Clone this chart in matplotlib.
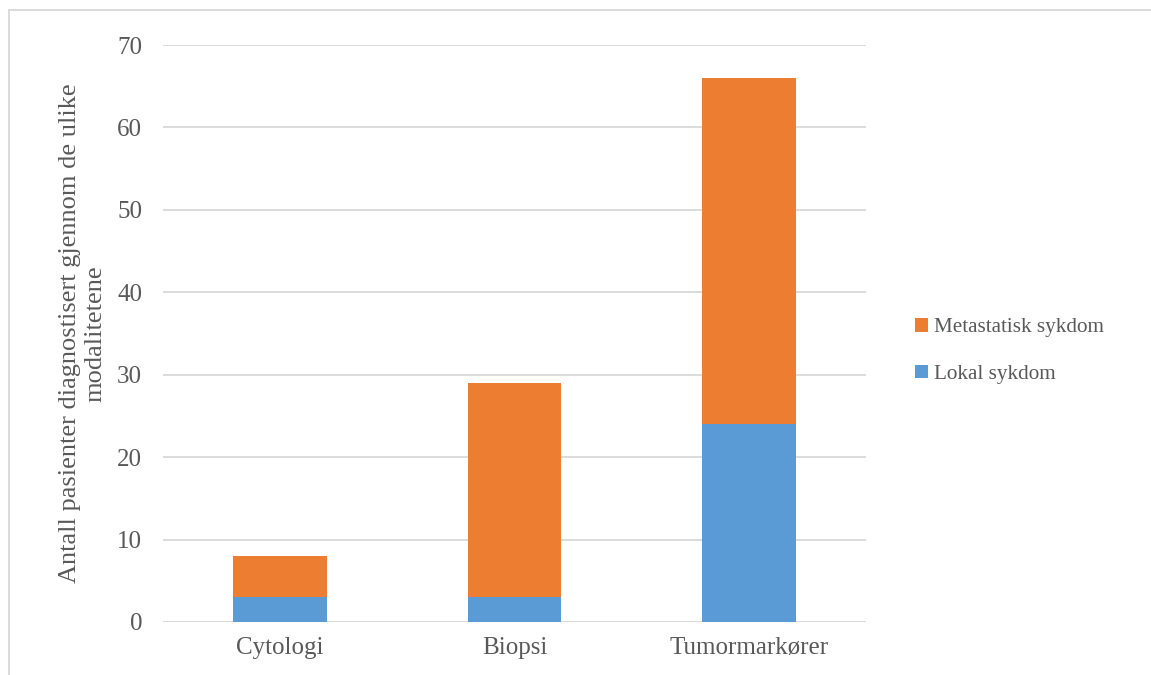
import matplotlib.pyplot as plt
from matplotlib.lines import Line2D

categories = ['Cytologi', 'Biopsi', 'Tumormarkører']
lokal = [3, 3, 24]
metastatisk = [5, 26, 42]

plt.rcParams['font.family'] = ['Liberation Serif', 'DejaVu Serif']
grey = '#595959'

fig = plt.figure(figsize=(11.51, 6.75), dpi=100)
ax = fig.add_axes([163 / 1151, 1 - 622 / 675, 703 / 1151, 577 / 675])

x = range(len(categories))
ax.bar(x, lokal, width=0.4, color='#5b9bd5', label='Lokal sykdom', zorder=3)
ax.bar(x, metastatisk, width=0.4, bottom=lokal, color='#ed7d31',
       label='Metastatisk sykdom', zorder=3)

ax.set_xlim(-0.5, 2.5)
ax.set_ylim(0, 70)
ax.set_yticks(range(0, 71, 10))
ax.set_xticks(list(x))
ax.set_xticklabels(categories)
ax.grid(axis='y', color='#d9d9d9', linewidth=1.3, zorder=0)
for s in ax.spines.values():
    s.set_visible(False)
ax.tick_params(length=0, labelsize=18, colors=grey)
ax.tick_params(axis='y', pad=15)
ax.tick_params(axis='x', pad=11)
ax.axhline(0, color='#d9d9d9', linewidth=1.3, zorder=2)

ax.set_ylabel('Antall pasienter diagnostisert gjennom de ulike\nmodalitetene',
              fontsize=19, color=grey, linespacing=1.15)
ax.yaxis.set_label_coords(-57 / 703, 0.5)

handles, labels = ax.get_legend_handles_labels()
leg = fig.legend(handles[::-1], labels[::-1], loc='center left',
                 bbox_to_anchor=(896 / 1151, 1 - 351 / 675), frameon=False,
                 fontsize=15.2, labelcolor=grey, handlelength=0.6,
                 handleheight=0.6, handletextpad=0.3, labelspacing=1.3)

# outer frame (only left and top visible in the crop)
fig.add_artist(Line2D([9 / 1151, 9 / 1151], [0, 1 - 10 / 675],
                      transform=fig.transFigure, color='#d9d9d9', lw=1.3))
fig.add_artist(Line2D([9 / 1151, 1], [1 - 10 / 675, 1 - 10 / 675],
                      transform=fig.transFigure, color='#d9d9d9', lw=1.3))

fig.savefig('out.png', dpi=100)
